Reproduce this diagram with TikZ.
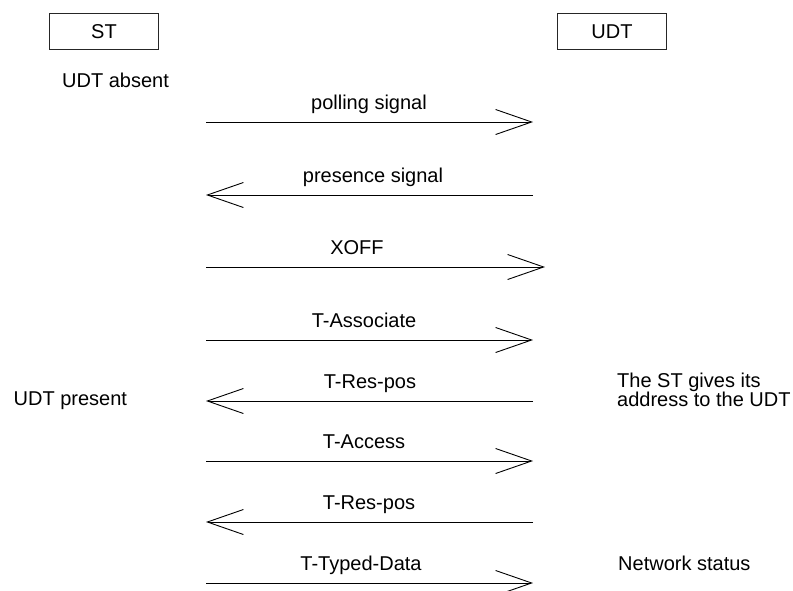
\documentclass[tikz,border=0pt]{standalone}
\usepackage{fontspec}
\setmainfont{Liberation Sans}
\usetikzlibrary{arrows.meta}
\begin{document}
\begin{tikzpicture}[x=1pt,y=-1pt,
  every node/.style={font=\fontsize{20}{19}\selectfont, inner sep=0pt},
  entity/.style={draw=black!85, line width=0.9pt, minimum width=109pt, minimum height=36pt, anchor=north west},
  msg/.style={line width=0.9pt, -{Straight Barb[length=36pt,width=25pt,line width=0.9pt]}},
  lbl/.style={anchor=base},
  note/.style={anchor=base west, align=left}]
  \useasboundingbox (0,0) rectangle (793,590);

  % participants
  \node[entity] (st) at (49,13) {ST};
  \node[entity] (udt) at (557,13) {UDT};

  % state notes
  \node[note] (absent) at (62,87) {UDT absent};
  \node[note] (present) at (13.5,405) {UDT present};
  \node[note, anchor=north west] (addr) at (617,373) {The ST gives its\\address to the UDT};
  \node[note] (netstat) at (618,570) {Network status};

  % message end points
  \coordinate (m1a) at (206,122);   \coordinate (m1b) at (533,122);
  \coordinate (m2a) at (533,195);   \coordinate (m2b) at (206,195);
  \coordinate (m3a) at (206,267);   \coordinate (m3b) at (545,267);
  \coordinate (m4a) at (206,340);   \coordinate (m4b) at (533,340);
  \coordinate (m5a) at (533,401);   \coordinate (m5b) at (206,401);
  \coordinate (m6a) at (206,461);   \coordinate (m6b) at (533,461);
  \coordinate (m7a) at (533,522);   \coordinate (m7b) at (206,522);
  \coordinate (m8a) at (206,583);   \coordinate (m8b) at (533,583);

  % messages
  \draw[msg] (m1a) -- (m1b);
  \draw[msg] (m2a) -- (m2b);
  \draw[msg] (m3a) -- (m3b);
  \draw[msg] (m4a) -- (m4b);
  \draw[msg] (m5a) -- (m5b);
  \draw[msg] (m6a) -- (m6b);
  \draw[msg] (m7a) -- (m7b);
  \draw[msg] (m8a) -- (m8b);

  % message labels
  \node[lbl] (l1) at (369,109.5) {polling signal};
  \node[lbl] (l2) at (373,182.5) {presence signal};
  \node[lbl] (l3) at (357,254.5) {XOFF};
  \node[lbl] (l4) at (364,327.5) {T-Associate};
  \node[lbl] (l5) at (370,388.5) {T-Res-pos};
  \node[lbl] (l6) at (364,448.5) {T-Access};
  \node[lbl] (l7) at (369,509.5) {T-Res-pos};
  \node[lbl] (l8) at (361,570.5) {T-Typed-Data};
\end{tikzpicture}
\end{document}
